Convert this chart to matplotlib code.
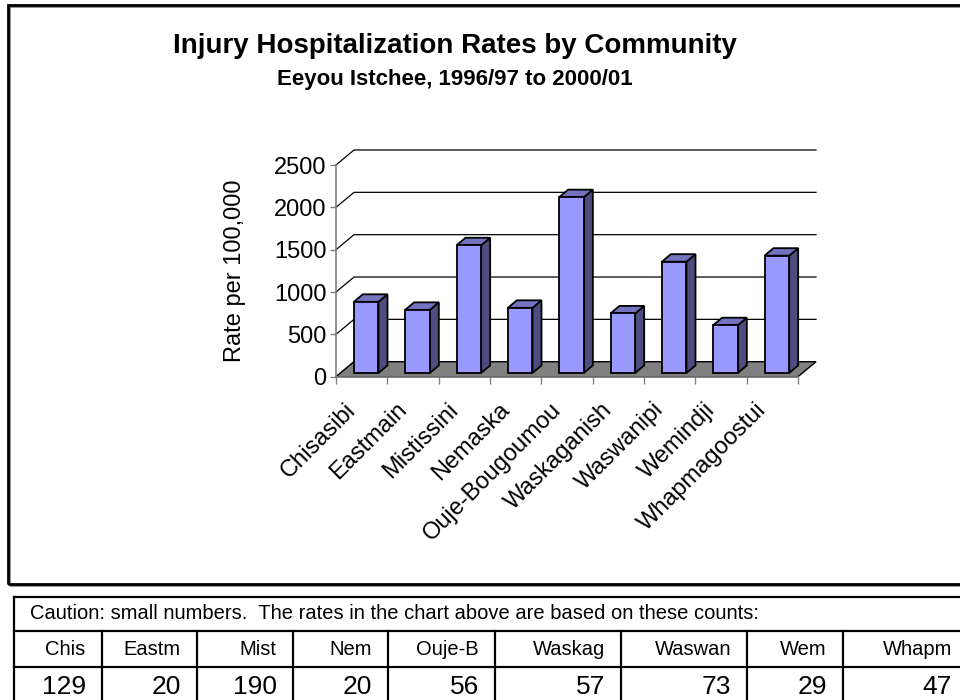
import matplotlib
matplotlib.use("Agg")
import matplotlib.pyplot as plt
import matplotlib.transforms as mtransforms
from matplotlib.patches import Polygon, Rectangle
from matplotlib.lines import Line2D
import numpy as np

plt.rcParams['font.family'] = ['Liberation Sans', 'DejaVu Sans']

# injury hospitalization rates per 100,000, 1996/97 - 2000/01
communities = ['Chisasibi', 'Eastmain', 'Mistissini', 'Nemaska', 'Ouje-Bougoumou',
               'Waskaganish', 'Waswanipi', 'Wemindji', 'Whapmagoostui']
rates = [840, 745, 1508, 769, 2076, 703, 1314, 564, 1385]

# case counts shown underneath
short_names = ['Chis', 'Eastm', 'Mist', 'Nem', 'Ouje-B', 'Waskag', 'Waswan', 'Wem', 'Whapm']
counts = [129, 20, 190, 20, 56, 57, 73, 29, 47]

yticks = [0, 500, 1000, 1500, 2000, 2500]

W, H = 960, 700
fig = plt.figure(figsize=(W / 100, H / 100), dpi=100)

def px(x0, y0, x1, y1):
    # pixel box (top-left origin) -> figure fraction rect
    return [x0 / W, 1 - y1 / H, (x1 - x0) / W, (y1 - y0) / H]

# chart area border with a grey drop shadow
fig.add_artist(Rectangle((9.5 / W, 1 - 586 / H), 980 / W, 579 / H, transform=fig.transFigure,
                         fill=False, ec='#808080', lw=1.2))
fig.add_artist(Rectangle((8 / W, 1 - 584 / H), 980 / W, 579 / H, transform=fig.transFigure,
                         fill=False, ec='black', lw=2.0))

fig.text(455 / W, 1 - 46 / H, 'Injury Hospitalization Rates by Community',
         ha='center', va='center', fontsize=20, fontweight='bold')
fig.text(455 / W, 1 - 80 / H, 'Eeyou Istchee, 1996/97 to 2000/01',
         ha='center', va='center', fontsize=16, fontweight='bold')

# front plane of the 3-d plot
ax = fig.add_axes(px(336, 165, 798, 376.7))
n = len(communities)
ax.set_xlim(0, n)
ax.set_ylim(0, 2500)
ax.patch.set_visible(False)
for s in ['top', 'right']:
    ax.spines[s].set_visible(False)
ax.spines['left'].set_color('#808080')
ax.spines['bottom'].set_color('#808080')
ax.spines['left'].set_linewidth(1.2)
ax.spines['bottom'].set_linewidth(1.2)

# depth offset of the back wall, in data units
DX = 18 / 51.3
DY = 15 * 2500 / 211.7

# gridlines on the side and back walls
for v in yticks[1:]:
    ax.add_line(Line2D([0, DX, n + DX], [v, v + DY, v + DY], color='black', lw=0.9,
                       clip_on=False, zorder=1))
ax.add_line(Line2D([0, DX], [0, DY], color='black', lw=0.9, clip_on=False, zorder=1))

# floor
ax.add_patch(Polygon([(0, 0), (n, 0), (n + DX, DY), (DX, DY)], closed=True,
                     fc='#808080', ec='black', lw=1.0, clip_on=False, zorder=2))

# 3-d columns
bw = 0.48
d0, d1 = 0.25, 0.75
for i, v in enumerate(rates):
    x0 = i + (1 - bw) / 2 + d0 * DX
    y0 = d0 * DY
    ddx = (d1 - d0) * DX
    ddy = (d1 - d0) * DY
    side = [(x0 + bw, y0), (x0 + bw + ddx, y0 + ddy), (x0 + bw + ddx, y0 + v + ddy), (x0 + bw, y0 + v)]
    top = [(x0, y0 + v), (x0 + bw, y0 + v), (x0 + bw + ddx, y0 + v + ddy), (x0 + ddx, y0 + v + ddy)]
    front = [(x0, y0), (x0 + bw, y0), (x0 + bw, y0 + v), (x0, y0 + v)]
    ax.add_patch(Polygon(side, closed=True, fc='#4D4D80', ec='black', lw=1.3, clip_on=False, zorder=3))
    ax.add_patch(Polygon(top, closed=True, fc='#7373BF', ec='black', lw=1.3, clip_on=False, zorder=3))
    ax.add_patch(Polygon(front, closed=True, fc='#9999FF', ec='black', lw=1.3, clip_on=False, zorder=4))

ax.set_yticks(yticks)
ax.set_yticklabels([str(t) for t in yticks], fontsize=17)
ax.tick_params(axis='y', direction='out', length=4, width=1, color='#808080', pad=3)
ax.set_xticks(np.arange(n + 1))
ax.set_xticklabels([])
ax.tick_params(axis='x', direction='out', length=5, width=1, color='#808080')

# rotated category labels
lab_tr = mtransforms.offset_copy(ax.transData, fig=fig, x=-17, y=-22, units='dots')
for i, name in enumerate(communities):
    ax.text(i + 0.5, 0, name, transform=lab_tr, rotation=45, rotation_mode='anchor',
            ha='right', va='top', fontsize=17)

ax.set_ylabel('Rate per 100,000', fontsize=17)
ax.yaxis.set_label_coords(-0.195, 0.5)

# counts table below the chart
tab = fig.add_axes(px(14, 597, 968, 703))
tab.set_xlim(14, 968)
tab.set_ylim(703, 597)
tab.axis('off')
col_edges = [14, 101.7, 196.7, 292.7, 388, 495, 621, 747.3, 842.7, 968]
row_edges = [597, 631, 667, 703]
lk = dict(color='black', lw=1.6, clip_on=False)
for y in row_edges[:3]:
    tab.plot([col_edges[0], col_edges[-1]], [y, y], **lk)
tab.plot([14, 14], [597, 703], **lk)
for x in col_edges[1:-1]:
    tab.plot([x, x], [631, 703], **lk)
tab.text(30, 614, 'Caution: small numbers.  The rates in the chart above are based on these counts:',
         ha='left', va='center', fontsize=14.5)
for j, (nm, c) in enumerate(zip(short_names, counts)):
    xr = col_edges[j + 1] - 16
    tab.text(xr, 650, nm, ha='right', va='center', fontsize=14.5)
    tab.text(xr, 687, str(c), ha='right', va='center', fontsize=19)

fig.savefig('out.png', dpi=100)
